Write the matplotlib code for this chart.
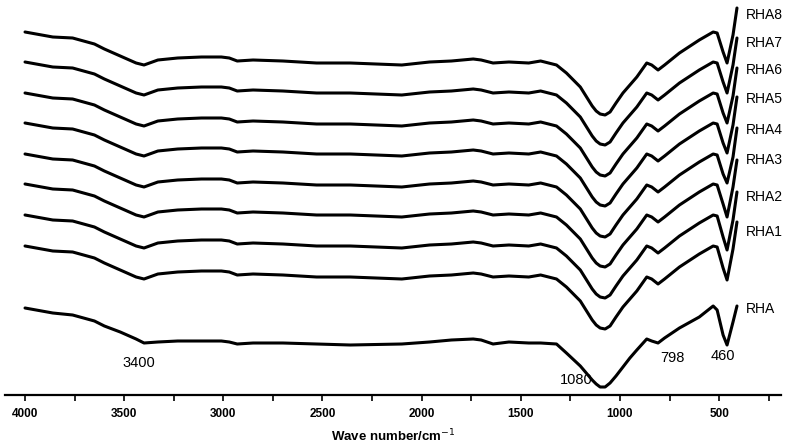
import matplotlib
matplotlib.use("Agg")
import matplotlib.pyplot as plt
from matplotlib.ticker import MultipleLocator

plt.rcParams['font.family'] = ['Liberation Sans', 'DejaVu Sans']

# Wavenumbers (cm^-1)
wavenumber = [4000, 3860, 3760, 3650, 3600, 3520, 3440, 3400, 3330, 3230,
              3110, 3010, 2970, 2930, 2850, 2700, 2530, 2360, 2100, 1960,
              1850, 1740, 1700, 1640, 1560, 1460, 1400, 1320, 1270, 1200,
              1140, 1120, 1100, 1075, 1050, 1020, 985, 950, 915, 865,
              840, 808, 775, 700, 600, 530, 510, 480, 460, 430, 410]

# Transmittance (arbitrary units, stacked spectra)
rha8 = [363, 358, 357, 351, 346, 339, 332, 330, 335, 337, 338, 338, 337, 334, 335, 334, 332, 332, 330, 333,
        334, 336, 335, 332, 333, 332, 334, 330, 322, 308, 289, 284, 281, 280, 283, 292, 302, 310, 318, 332,
        330, 325, 330, 342, 355, 363, 362, 343, 332, 360, 387]
rha7 = [333, 328, 327, 321, 316, 309, 302, 300, 305, 307, 308, 308, 307, 304, 305, 304, 302, 302, 300, 303,
        304, 306, 305, 302, 303, 302, 304, 300, 292, 278, 259, 254, 251, 250, 253, 262, 272, 280, 288, 302,
        300, 295, 300, 312, 325, 333, 332, 313, 302, 330, 357]
rha6 = [302, 297, 296, 290, 285, 278, 271, 269, 274, 276, 277, 277, 276, 273, 274, 273, 271, 271, 269, 272,
        273, 275, 274, 271, 272, 271, 273, 269, 261, 247, 228, 223, 220, 219, 222, 231, 241, 249, 257, 271,
        269, 264, 269, 281, 294, 302, 301, 282, 272, 299, 327]
rha5 = [272, 267, 266, 260, 255, 248, 241, 239, 244, 246, 247, 247, 246, 243, 244, 243, 241, 241, 239, 242,
        243, 245, 244, 241, 242, 241, 243, 239, 231, 217, 198, 193, 190, 189, 192, 201, 211, 219, 227, 241,
        239, 234, 239, 251, 264, 272, 271, 252, 242, 270, 298]
rha4 = [241, 236, 235, 229, 224, 217, 210, 208, 213, 215, 216, 216, 215, 212, 213, 212, 210, 210, 208, 211,
        212, 214, 213, 210, 211, 210, 212, 208, 200, 186, 167, 162, 159, 158, 161, 170, 180, 188, 196, 210,
        208, 203, 208, 220, 233, 241, 240, 221, 212, 238, 267]
rha3 = [211, 206, 205, 199, 194, 187, 180, 178, 183, 185, 186, 186, 185, 182, 183, 182, 180, 180, 178, 181,
        182, 184, 183, 180, 181, 180, 182, 178, 170, 156, 137, 132, 129, 128, 131, 140, 150, 158, 166, 180,
        178, 173, 178, 190, 203, 211, 210, 191, 178, 208, 235]
rha2 = [180, 175, 174, 168, 163, 156, 149, 147, 152, 154, 155, 155, 154, 151, 152, 151, 149, 149, 147, 150,
        151, 153, 152, 149, 150, 149, 151, 147, 139, 125, 106, 101, 98, 97, 100, 109, 119, 127, 135, 149,
        147, 142, 147, 159, 172, 180, 179, 158, 145, 175, 203]
rha1 = [149, 144, 143, 137, 132, 125, 118, 116, 121, 123, 124, 124, 123, 120, 121, 120, 118, 118, 116, 119,
        120, 122, 121, 118, 119, 118, 120, 116, 108, 94, 75, 70, 67, 66, 69, 78, 88, 96, 104, 118,
        116, 111, 116, 128, 141, 149, 148, 127, 115, 146, 173]
rha = [87, 82, 80, 74, 69, 63, 56, 52, 53, 54, 54, 54, 53, 51, 52, 52, 51, 50, 51, 53,
       55, 56, 55, 51, 53, 52, 52, 51, 42, 29, 15, 11, 8, 8, 12, 19, 28, 37, 45, 56,
       54, 52, 57, 67, 78, 89, 85, 60, 50, 73, 89]

series = [rha8, rha7, rha6, rha5, rha4, rha3, rha2, rha1, rha]
series_names = ["RHA8", "RHA7", "RHA6", "RHA5", "RHA4", "RHA3", "RHA2", "RHA1", "RHA"]
label_y = [380, 352, 325, 296, 265, 235, 198, 163, 86]

peak_labels = ["3400", "1080", "798", "460"]
peak_x = [3425, 1221, 737, 480]
peak_y = [32, 15, 37, 39]

tick_major = [4000, 3500, 3000, 2500, 2000, 1500, 1000, 500]

W, H = 786, 447
fig = plt.figure(figsize=(W / 100, H / 100), dpi=100)
ax = fig.add_axes([5 / W, 52 / H, 776 / W, 395 / H])

for ys in series:
    ax.plot(wavenumber, ys, color='black', lw=2.2, solid_joinstyle='round', solid_capstyle='round')

for name, yl in zip(series_names, label_y):
    ax.text(364, yl, name, ha='left', va='center', fontsize=10, color='black', clip_on=False)

for t, xp, yp in zip(peak_labels, peak_x, peak_y):
    ax.text(xp, yp, t, ha='center', va='center', fontsize=10.5, color='black')

ax.set_xlim(4101, 188)
ax.set_ylim(0, 395)

for s in ['left', 'right', 'top']:
    ax.spines[s].set_visible(False)
ax.spines['bottom'].set_linewidth(1.6)
ax.set_yticks([])

ax.set_xticks(tick_major)
ax.set_xticklabels([str(t) for t in tick_major], fontsize=8.5, fontweight='bold')
ax.xaxis.set_minor_locator(MultipleLocator(250))
ax.tick_params(axis='x', which='both', direction='out', length=4, width=1.2, pad=5.5)

ax.set_xlabel("Wave number/cm$^{-1}$", fontsize=9.5, fontweight='bold', va='center')
ax.xaxis.set_label_coords((393 - 5) / 776, (395 - 436) / 395)

fig.savefig("out.png", dpi=100)
